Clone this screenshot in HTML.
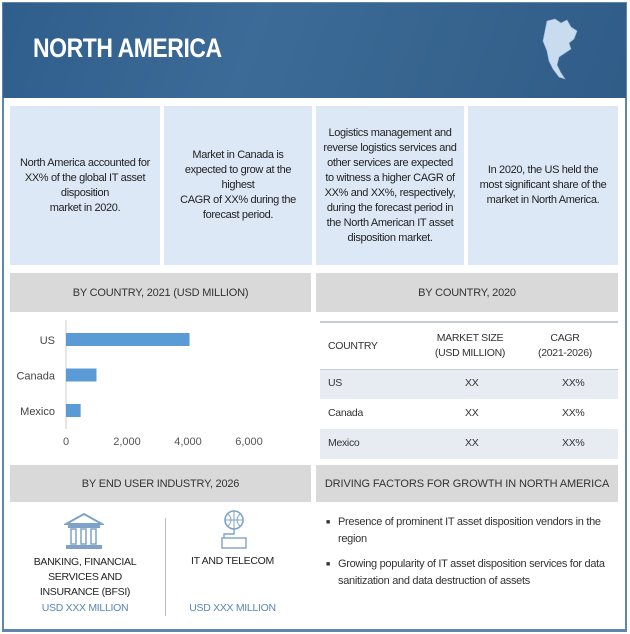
<!DOCTYPE html>
<html><head><meta charset="utf-8">
<style>
*{box-sizing:border-box;margin:0;padding:0}
body{width:630px;height:634px;background:#fff;font-family:"Liberation Sans",sans-serif;position:relative;overflow:hidden}
.a{position:absolute}
.box{background:#dce8f5;color:#222;font-size:11px;letter-spacing:-0.35px;line-height:15px;text-align:center;display:flex;align-items:center;justify-content:center;padding:4px 10px}
.gh{background:#d9d9d9;color:#333;font-size:11px;display:flex;align-items:center;justify-content:center;letter-spacing:-0.2px;white-space:nowrap}
.t{font-size:10.5px;color:#333;letter-spacing:-0.3px}
</style></head><body>
<div class="a" style="left:2px;top:2px;width:625px;height:630px;border:2px solid #5f87ad;border-bottom-width:3px"></div>
<div class="a" style="left:3px;top:3px;width:623px;height:95px;background:linear-gradient(110deg,#2f5e8c 0%,#3d6b98 40%,#36648f 70%,#2f5c88 100%)">
<div class="a" style="left:30px;top:30px;color:#fff;font-weight:bold;font-size:27px;letter-spacing:-0.5px;transform:scaleX(0.85);transform-origin:left">NORTH AMERICA</div>
<svg class="a" style="left:538px;top:14px" width="40" height="65" viewBox="0 0 40 65"><path d="M6 4 L14 2 L20 6 L26 3 L30 10 L36 14 L33 22 L28 26 L30 32 L24 36 L18 40 L16 48 L20 56 L24 62 L18 60 L12 52 L8 44 L6 34 L2 24 L4 14 Z" fill="#c9dcef" stroke="#9cb8d6" stroke-width="0.6"/></svg>
</div>
<div class="a box" style="left:10px;top:106px;width:150px;height:159px">North America accounted for XX% of the global IT asset disposition<br>market in 2020.</div>
<div class="a box" style="left:164px;top:106px;width:148px;height:159px">Market in Canada is expected to grow at the highest<br>CAGR of XX% during the forecast period.</div>
<div class="a box" style="left:316px;top:106px;width:148px;height:159px;padding:4px 6px">Logistics management and reverse logistics services and other services are expected to witness a higher CAGR of XX% and XX%, respectively, during the forecast period in the North American IT asset disposition market.</div>
<div class="a box" style="left:468px;top:106px;width:150px;height:159px">In 2020, the US held the most significant share of the market in North America.</div>
<div class="a gh" style="left:10px;top:273px;width:301px;height:39px">BY COUNTRY, 2021 (USD MILLION)</div>
<div class="a gh" style="left:316px;top:273px;width:302px;height:39px">BY COUNTRY, 2020</div>
<svg class="a" style="left:0;top:312px" width="315" height="150" id="chart"></svg>
<div class="a" style="left:320px;top:321px;width:298px;height:2px;background:#c5ccd6"></div>
<div class="a t" style="left:328px;top:340px">COUNTRY</div>
<div class="a t" style="left:420px;top:331px;width:100px;text-align:center;line-height:15px">MARKET SIZE<br>(USD MILLION)</div>
<div class="a t" style="left:530px;top:331px;width:70px;text-align:center;line-height:15px">CAGR<br>(2021-2026)</div>
<div class="a" style="left:320px;top:369px;width:298px;height:30px;background:#e7ecf2;border-top:1px solid #c5ccd6"></div>
<div class="a" style="left:320px;top:429px;width:298px;height:30px;background:#e7ecf2"></div>
<div class="a t" style="left:328px;top:377px">US</div>
<div class="a t" style="left:465px;top:377px">XX</div>
<div class="a t" style="left:562px;top:377px">XX%</div>
<div class="a t" style="left:328px;top:407px">Canada</div>
<div class="a t" style="left:465px;top:407px">XX</div>
<div class="a t" style="left:562px;top:407px">XX%</div>
<div class="a t" style="left:328px;top:437px">Mexico</div>
<div class="a t" style="left:465px;top:437px">XX</div>
<div class="a t" style="left:562px;top:437px">XX%</div>
<div class="a gh" style="left:10px;top:465px;width:301px;height:37px">BY END USER INDUSTRY, 2026</div>
<div class="a gh" style="left:316px;top:465px;width:302px;height:37px;letter-spacing:-0.1px">DRIVING FACTORS FOR GROWTH IN NORTH AMERICA</div>
<svg class="a" style="left:64px;top:512px" width="40" height="38" viewBox="0 0 40 38"><path d="M2 12 L20 2 L38 12 Z" fill="none" stroke="#7fa3c8" stroke-width="2"/><rect x="4" y="13" width="32" height="3" fill="#7fa3c8"/><rect x="7" y="17" width="5" height="15" fill="none" stroke="#7fa3c8" stroke-width="1.5"/><rect x="17" y="17" width="5" height="15" fill="none" stroke="#7fa3c8" stroke-width="1.5"/><rect x="27" y="17" width="5" height="15" fill="none" stroke="#7fa3c8" stroke-width="1.5"/><rect x="2" y="33" width="36" height="4" fill="#7fa3c8"/></svg>
<div class="a" style="left:165px;top:518px;width:1px;height:98px;background:#bbb"></div>
<svg class="a" style="left:216px;top:508px" width="36" height="42" viewBox="0 0 36 42"><circle cx="18" cy="12" r="9" fill="none" stroke="#7fa3c8" stroke-width="1.6"/><path d="M9 12 H27 M18 3 V21 M12 6 Q18 12 12 18 M24 6 Q18 12 24 18" stroke="#7fa3c8" fill="none" stroke-width="1"/><path d="M18 21 V26 H8 V30" stroke="#7fa3c8" fill="none" stroke-width="1.4"/><rect x="6" y="30" width="24" height="10" fill="none" stroke="#7fa3c8" stroke-width="1.4"/></svg>
<div class="a t" style="left:20px;top:555px;width:130px;text-align:center;line-height:15px;color:#222">BANKING, FINANCIAL SERVICES AND INSURANCE (BFSI)</div>
<div class="a t" style="left:20px;top:602px;width:130px;text-align:center;color:#5a86b3">USD XXX MILLION</div>
<div class="a t" style="left:170px;top:555px;width:125px;text-align:center;color:#222">IT AND TELECOM</div>
<div class="a t" style="left:170px;top:602px;width:125px;text-align:center;color:#5a86b3">USD XXX MILLION</div>
<div class="a" style="left:326px;top:514px;width:285px;font-size:11px;letter-spacing:-0.3px;line-height:17px;color:#333">
<div style="display:flex;margin-bottom:8px"><span style="width:12px;flex:none;font-size:7px">■</span><span>Presence of prominent IT asset disposition vendors in the region</span></div>
<div style="display:flex"><span style="width:12px;flex:none;font-size:7px">■</span><span>Growing popularity of IT asset disposition services for data sanitization and data destruction of assets</span></div>
</div>
<script>
const categories=["US","Canada","Mexico"];
const values=[4050,1000,480];
const ticks=[0,2000,4000,6000];
const tickLabels=["0","2,000","4,000","6,000"];
const svg=document.getElementById('chart');
const NS="http://www.w3.org/2000/svg";
const x0=66,pxPer=30.5/1000;
const xs=v=>x0+v*pxPer;
const ys=i=>21+i*35.5;
function mk(t,a){const e=document.createElementNS(NS,t);for(const k in a)e.setAttribute(k,a[k]);svg.appendChild(e);return e;}
const ax=mk('line',{x1:x0,y1:8,x2:x0,y2:117,stroke:'#ccc'});


categories.forEach((c,i)=>{
 const r=mk('rect',{x:x0,y:ys(i),width:xs(values[i])-x0,height:13,fill:'#5b9bd5'});
 
 
 const t=mk('text',{x:55,y:ys(i)+11,'text-anchor':'end','font-size':'11','fill':'#444'});
 t.textContent=c;
 
 
});
ticks.forEach((v,i)=>{
 const t=mk('text',{x:xs(v),y:133,'text-anchor':'middle','font-size':'11','fill':'#555'});
 t.textContent=tickLabels[i];
 
 
});
</script>
</body></html>
